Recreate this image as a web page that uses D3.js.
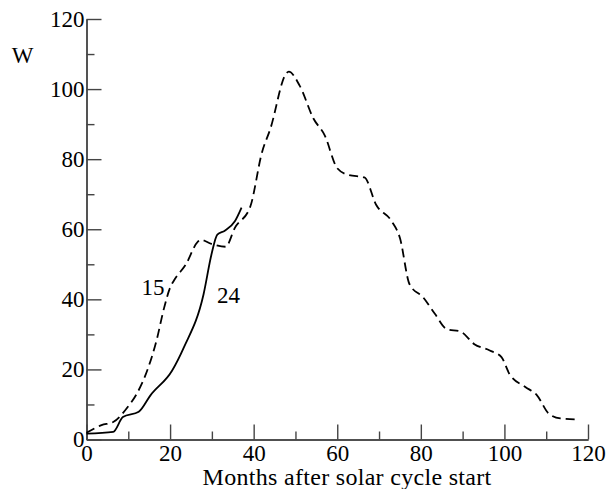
<!DOCTYPE html>
<html lang="en">
<head>
<meta charset="utf-8">
<style type="text/css">
    body { margin: 0; background: #fff; }
    svg { display: block; }
    .line { fill: none; stroke: #000; stroke-width: 1.8px; }
    .axis path, .axis line { stroke: #444; stroke-width: 1.4px; }
</style>
</head>
<body>
<svg width="614" height="489"></svg>
<script src="https://cdn.jsdelivr.net/npm/d3@7"></script>
<script type="text/javascript">
    // cycle 15 (dashed)
    var months15 = [0, 3.6, 6.4, 10, 12, 14.8, 16.7, 18.6, 20, 21, 23.8, 26.6, 27.3, 29.9, 33.3, 35.5, 39.2, 42, 44, 47.7, 48.4, 51, 54.3, 57, 60, 62.7, 66.5, 69.3, 73, 75, 77.3, 80.6, 83.4, 86.2, 89.5, 92.8, 96.5, 99.3, 101.2, 105, 107.8, 110.6, 113.4, 118];
    var w15 = [1.9, 4.1, 5.0, 9.5, 13, 20.6, 28, 37.7, 43.3, 45.5, 50, 56.4, 57.0, 55.8, 55.0, 60.4, 66.5, 82, 88.7, 104.3, 105, 101, 91.6, 86.8, 77.4, 75.5, 74.8, 67, 62.3, 57.5, 44.3, 40.5, 35.8, 31.5, 30.8, 27.2, 25.4, 23.5, 18.7, 15, 12.6, 7.4, 6, 5.7];
    // cycle 24 (solid)
    var months24 = [0, 6.4, 8.7, 12.5, 15.3, 20.5, 23.3, 28, 29.9, 31.3, 33.1, 35.5, 37.1];
    var w24 = [1.7, 2.2, 6.4, 7.9, 12.6, 19.7, 26.3, 41.4, 52.8, 58.5, 59.6, 62.3, 66.2];

    var majorTicks = [0, 20, 40, 60, 80, 100, 120];
    var minorTicks = [10, 30, 50, 70, 90, 110];

    var serif = '"Liberation Serif", "Times New Roman", Times, "DejaVu Serif", serif';

    var svg = d3.select("svg");
    var x = d3.scaleLinear().domain([0, 120]).range([86.5, 588]);
    var y = d3.scaleLinear().domain([0, 120]).range([439.5, 19]);

    // minor ticks
    svg.append("g").attr("class", "axis")
        .attr("transform", "translate(0," + y(0) + ")")
        .call(d3.axisBottom(x).tickValues(minorTicks).tickSizeInner(-8).tickSizeOuter(0).tickFormat(""));
    svg.append("g").attr("class", "axis")
        .attr("transform", "translate(" + x(0) + ",0)")
        .call(d3.axisLeft(y).tickValues(minorTicks).tickSizeInner(-8).tickSizeOuter(0).tickFormat(""));

    // major ticks + labels
    svg.append("g").attr("class", "axis")
        .attr("transform", "translate(0," + y(0) + ")")
        .call(d3.axisBottom(x).tickValues(majorTicks).tickSizeInner(-15).tickSizeOuter(0).tickPadding(5));
    svg.append("g").attr("class", "axis")
        .attr("transform", "translate(" + x(0) + ",0)")
        .call(d3.axisLeft(y).tickValues(majorTicks).tickSizeInner(-15).tickSizeOuter(0).tickPadding(2));
    svg.selectAll(".axis text")
        .style("font-family", serif)
        .style("font-size", "23px")
        .attr("fill", "#000");

    var line = d3.line().curve(d3.curveMonotoneX)
        .x(function (d) { return x(d[0]); })
        .y(function (d) { return y(d[1]); });

    svg.append("path").attr("class", "line")
        .attr("stroke-dasharray", "9,5")
        .attr("d", line(d3.zip(months15, w15)));
    svg.append("path").attr("class", "line")
        .attr("d", line(d3.zip(months24, w24)));

    function label(tx, ty, txt, anchor, size) {
        return svg.append("text")
            .attr("x", tx).attr("y", ty)
            .attr("text-anchor", anchor || "start")
            .style("font-family", serif)
            .style("font-size", (size || 23) + "px")
            .text(txt);
    }
    label(22.5, 63.3, "W", "middle");
    label(347, 484.5, "Months after solar cycle start", "middle", 24)
        .style("letter-spacing", "0.3px");
    label(141.5, 295, "15");
    label(217, 303.3, "24");
</script>
</body>
</html>
